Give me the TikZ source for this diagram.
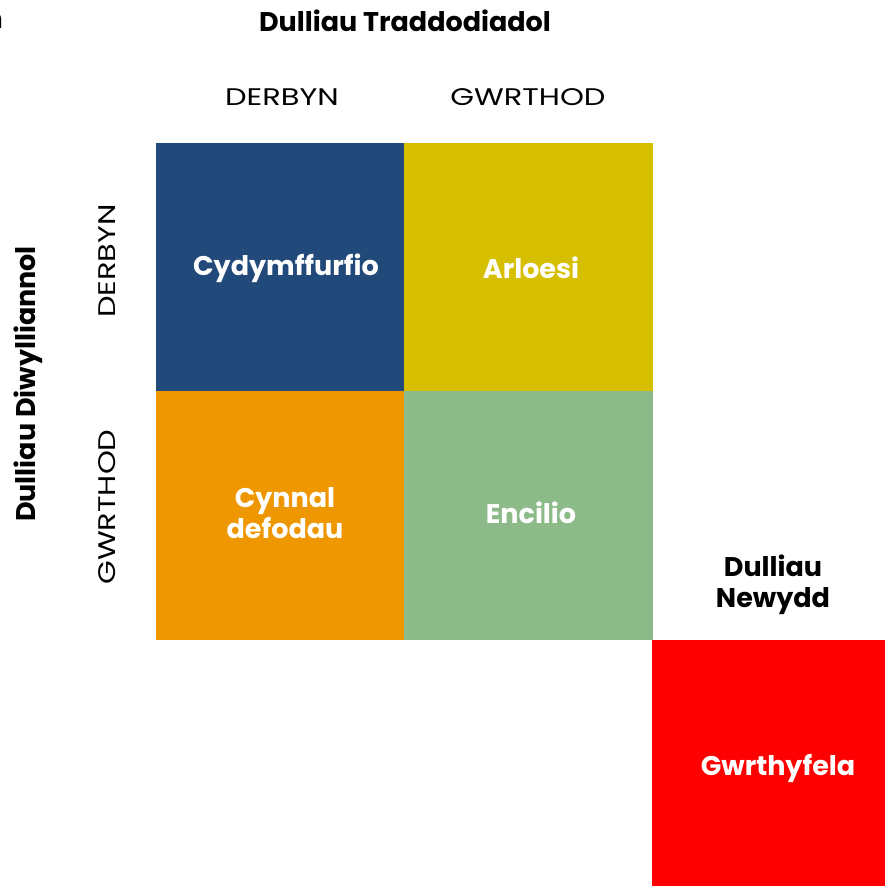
\documentclass[tikz,border=0pt]{standalone}
\usepackage{fontspec}
\setmainfont{Poppins}
\newfontfamily\widefont[FakeStretch=1.27]{Poppins}
\definecolor{cblue}{HTML}{214A7B}
\definecolor{cyellow}{HTML}{D6BF00}
\definecolor{corange}{HTML}{EE9700}
\definecolor{cgreen}{HTML}{8CBA88}
\definecolor{cred}{HTML}{FF0000}
\begin{document}
\begin{tikzpicture}[x=1pt,y=-1pt,
  celltext/.style={text=white,font=\fontsize{27}{31}\selectfont\bfseries,align=center},
  title/.style={text=black,font=\fontsize{27}{31}\selectfont\bfseries,align=center},
  axis/.style={text=black,font=\widefont\fontsize{24}{28}\selectfont}]
\useasboundingbox (0,0) rectangle (885,886);
\clip (0,0) rectangle (885,886);
\fill[white] (0,0) rectangle (885,886);
% cells
\fill[cblue] (156,143) rectangle (404,391);
\fill[cyellow] (404,143) rectangle (653,391);
\fill[corange] (156,391) rectangle (404,640);
\fill[cgreen] (404,391) rectangle (653,640);
\fill[cred] (652,640) rectangle (885,886);
\node[celltext] (a) at (286,268) {Cydymffurfio};
\node[celltext] (b) at (531,268) {Arloesi};
\node[celltext] (c) at (285,513) {Cynnal\\defodau};
\node[celltext] (d) at (531,513) {Encilio};
\node[celltext] (e) at (778,768) {Gwrthyfela};
% titles
\node[title] (t1) at (405,21) {Dulliau Traddodiadol};
\node[title] (t2) at (773,585) {Dulliau\\Newydd};
\node[title,rotate=90] (t3) at (28,384) {Dulliau Diwylliannol};
\node[title,anchor=base east,inner sep=0pt] (t4) at (3,28) {n};
% axis labels
\node[axis] (h1) at (282,97) {DERBYN};
\node[axis] (h2) at (528,97) {GWRTHOD};
\node[axis,rotate=90] (v1) at (107,261) {DERBYN};
\node[axis,rotate=90] (v2) at (107,507) {GWRTHOD};
\end{tikzpicture}
\end{document}
